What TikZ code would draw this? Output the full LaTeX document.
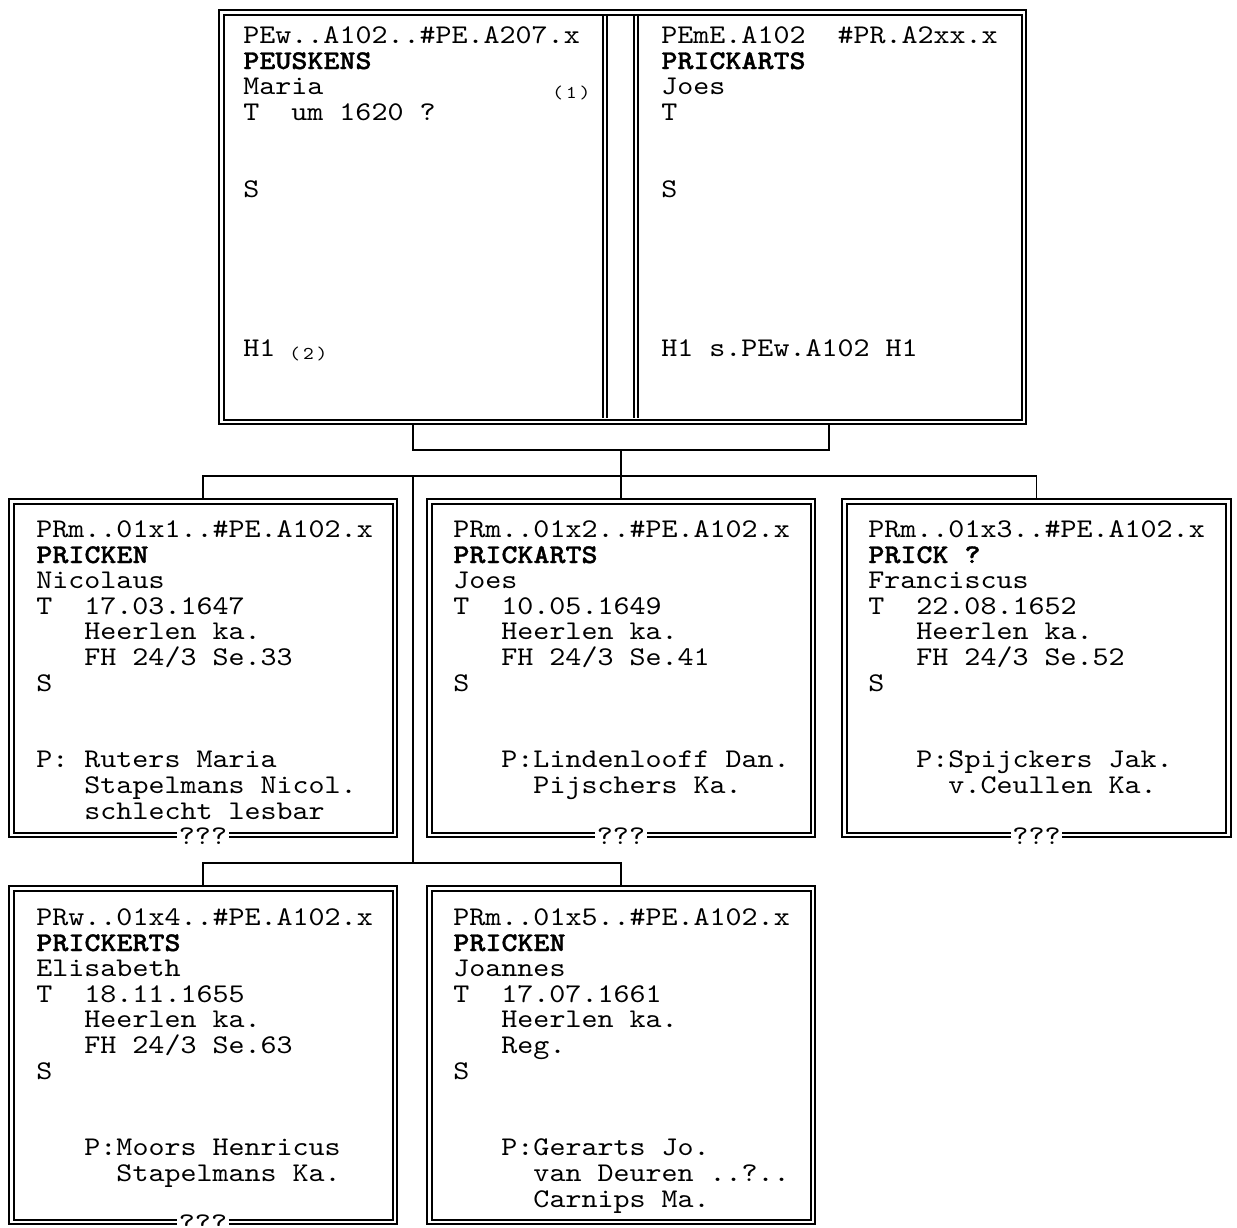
\documentclass[tikz,border=0pt]{standalone}
\usepackage{fontspec}
\usepackage{tikz}
\usetikzlibrary{calc}
\newfontfamily\recfont{lmmono10-regular.otf}[FakeStretch=1.13, BoldFont=lmmonolt10-bold.otf, BoldFeatures={FakeBold=1.2}]
\newcommand{\recsize}{\fontsize{13.5}{12.8}\selectfont}

\begin{document}
\lineskiplimit=-10pt
\begin{tikzpicture}[
  x=0.5pt, y=-0.5pt,
  frame/.style={draw=black, double, line width=1pt, double distance=1.3pt, outer sep=1.65pt, inner sep=0pt},
  childbox/.style={frame, minimum width=191.8pt, minimum height=166.8pt},
  sepline/.style={draw=black, double, line width=0.8pt, double distance=1.2pt},
  conn/.style={draw=black, line width=0.8pt},
  rec/.style={font=\recfont\recsize, align=left, inner sep=0pt, anchor=north west},
  recline/.style={font=\recfont\recsize, inner sep=0pt, anchor=base west},
  note/.style={font=\recfont\fontsize{9}{9}\selectfont, inner sep=0pt, anchor=base west},
  unk/.style={font=\recfont\recsize, fill=white, inner sep=0.8pt, yshift=1pt},
]
\useasboundingbox (0,0) rectangle (1237,1227);

% ---------- parents ----------
\node[frame, minimum width=401.3pt, minimum height=204.8pt] (par) at (622.5,217) {};
\draw[sepline] (605,15.6) -- (605,418.4);
\draw[sepline] (636,15.6) -- (636,418.4);

\node[rec] (wife) at (243,21) {\rule{0pt}{11pt}PEw..A102..\#PE.A207.x\\
  \textbf{PEUSKENS}\\ Maria\\ T~~um 1620 ?\\[25.6pt] S};
\node[note] (wnote) at (552,98) {(\,1\,)};
\node[recline] (wh1) at (243,356) {H1};
\node[note] (wh1note) at (289,359) {(\,2\,)};

\node[rec] (husb) at (661,21) {\rule{0pt}{11pt}PEmE.A102~~\#PR.A2xx.x\\
  \textbf{PRICKARTS}\\ Joes\\ T\\[25.6pt] S};
\node[recline] (hh1) at (661,356) {H1 s.PEw.A102 H1};

% ---------- children ----------
\node[childbox] (c1) at (203,668) {};
\node[childbox] (c2) at (621,668) {};
\node[childbox] (c3) at (1036.5,668) {};
\node[childbox] (c4) at (203,1055) {};
\node[childbox] (c5) at (621,1055) {};

\node[rec] (t1) at (36,515) {\rule{0pt}{11pt}PRm..01x1..\#PE.A102.x\\
  \textbf{PRICKEN}\\ Nicolaus\\ T~~17.03.1647\\
  \hphantom{000}Heerlen ka.\\ \hphantom{000}FH 24/3 Se.33\\ S\\[25.6pt]
  P: Ruters Maria\\ \hphantom{000}Stapelmans Nicol.\\ \hphantom{000}schlecht lesbar};
\node[rec] (t2) at (453,515) {\rule{0pt}{11pt}PRm..01x2..\#PE.A102.x\\
  \textbf{PRICKARTS}\\ Joes\\ T~~10.05.1649\\
  \hphantom{000}Heerlen ka.\\ \hphantom{000}FH 24/3 Se.41\\ S\\[25.6pt]
  \hphantom{000}P:Lindenlooff Dan.\\ \hphantom{00000}Pijschers Ka.};
\node[rec] (t3) at (868,515) {\rule{0pt}{11pt}PRm..01x3..\#PE.A102.x\\
  \textbf{PRICK ?}\\ Franciscus\\ T~~22.08.1652\\
  \hphantom{000}Heerlen ka.\\ \hphantom{000}FH 24/3 Se.52\\ S\\[25.6pt]
  \hphantom{000}P:Spijckers Jak.\\ \hphantom{00000}v.Ceullen Ka.};
\node[rec] (t4) at (36,903) {\rule{0pt}{11pt}PRw..01x4..\#PE.A102.x\\
  \textbf{PRICKERTS}\\ Elisabeth\\ T~~18.11.1655\\
  \hphantom{000}Heerlen ka.\\ \hphantom{000}FH 24/3 Se.63\\ S\\[25.6pt]
  \hphantom{000}P:Moors Henricus\\ \hphantom{00000}Stapelmans Ka.};
\node[rec] (t5) at (453,903) {\rule{0pt}{11pt}PRm..01x5..\#PE.A102.x\\
  \textbf{PRICKEN}\\ Joannes\\ T~~17.07.1661\\
  \hphantom{000}Heerlen ka.\\ \hphantom{000}Reg.\\ S\\[25.6pt]
  \hphantom{000}P:Gerarts Jo.\\ \hphantom{00000}van Deuren ..?..\\ \hphantom{00000}Carnips Ma.};

% unknown marks on the lower frames
\node[unk] (u1) at (c1.south) {???};
\node[unk] (u2) at (c2.south) {???};
\node[unk] (u3) at (c3.south) {???};
\node[unk] (u4) at (c4.south) {???};

% ---------- connectors ----------
\coordinate (brk) at (621,450);
\coordinate (g2) at (829,450);
\coordinate (bus) at (621,476);
\coordinate (split) at (413,476);
\coordinate (low) at (413,863);
\draw[conn] (par.south -| split) |- (brk) -| (par.south -| g2);
\draw[conn] (brk) -- (c2.north);
\draw[conn] (c1.north) |- (bus) -| (c3.north);
\draw[conn] (split) -- (low);
\draw[conn] (c4.north) |- (low) -| (c5.north);
\end{tikzpicture}
\end{document}
